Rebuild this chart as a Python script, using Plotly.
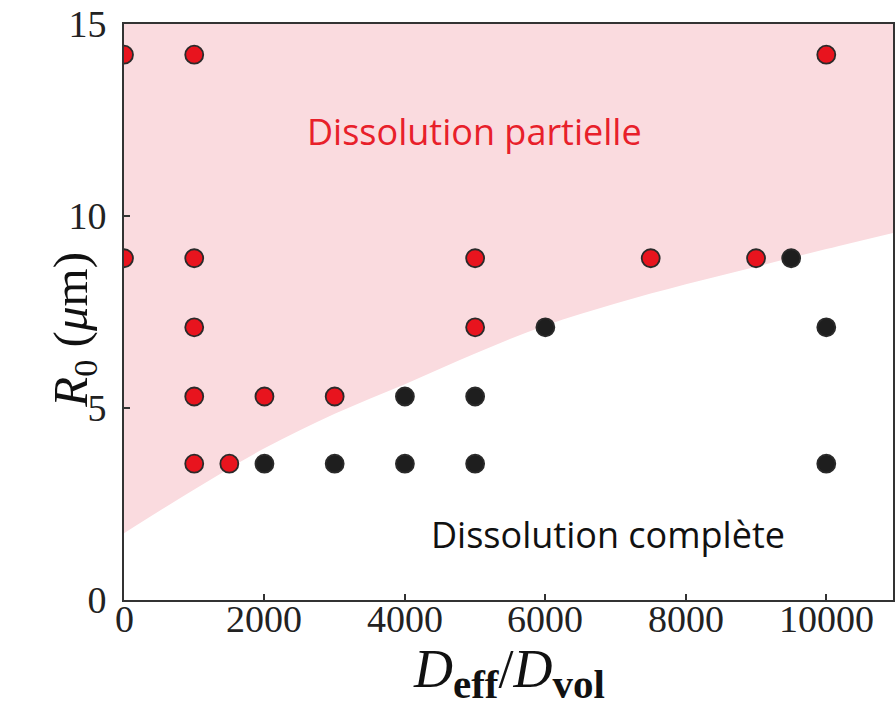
import plotly.graph_objects as go

# Simulation outcomes: ratio D_eff/D_vol vs initial radius R0 (µm)
partial_d = [0, 1000, 10000, 0, 1000, 5000, 7500, 9000, 1000, 5000, 1000, 2000, 3000, 1000, 1500]
partial_r = [14.2, 14.2, 14.2, 8.9, 8.9, 8.9, 8.9, 8.9, 7.1, 7.1, 5.3, 5.3, 5.3, 3.55, 3.55]

complete_d = [9500, 6000, 10000, 4000, 5000, 2000, 3000, 4000, 5000, 10000]
complete_r = [8.9, 7.1, 7.1, 5.3, 5.3, 3.55, 3.55, 3.55, 3.55, 3.55]

# Boundary between partial and complete dissolution
boundary_d = [0, 1000, 2000, 3000, 4000, 5000, 6000, 7000, 8000, 9000, 10000, 10950]
boundary_r = [1.74, 2.88, 3.95, 4.85, 5.62, 6.42, 7.15, 7.72, 8.22, 8.68, 9.14, 9.56]

x_ticks = [0, 2000, 4000, 6000, 8000, 10000]
y_ticks = [0, 5, 10, 15]
x_max = 10950
y_max = 15

serif = "Liberation Serif"
sans = "Open Sans"

fig = go.Figure()

# Shaded region above the boundary
fig.add_trace(go.Scatter(
    x=[boundary_d[0], boundary_d[-1]], y=[y_max, y_max],
    mode="lines", line=dict(width=0), showlegend=False, hoverinfo="skip",
))
fig.add_trace(go.Scatter(
    x=boundary_d, y=boundary_r, mode="lines",
    line=dict(width=0, shape="spline", smoothing=1.0),
    fill="tonexty", fillcolor="#FADBDF",
    showlegend=False, hoverinfo="skip",
))

fig.add_trace(go.Scatter(
    x=partial_d, y=partial_r, mode="markers",
    marker=dict(size=18, color="#E8141E", line=dict(color="#2a2a2a", width=1.8)),
    showlegend=False,
))
fig.add_trace(go.Scatter(
    x=complete_d, y=complete_r, mode="markers",
    marker=dict(size=18, color="#1e1e1e", line=dict(color="#2a2a2a", width=1.8)),
    showlegend=False,
))

fig.add_annotation(
    x=4990, y=12.2, xref="x", yref="y",
    text="Dissolution partielle", showarrow=False,
    font=dict(family=sans, size=36, color="#E8202A"),
)
fig.add_annotation(
    x=6890, y=1.7, xref="x", yref="y",
    text="Dissolution complète", showarrow=False,
    font=dict(family=sans, size=36, color="#111111"),
)

# x tick labels, set close under the axis line
for v in x_ticks:
    fig.add_annotation(
        x=v, y=0, xref="x", yref="paper", yanchor="middle", yshift=-19,
        text=str(v), showarrow=False,
        font=dict(family=serif, size=38, color="#222222"),
    )

# Axis titles
fig.add_annotation(
    x=-0.108, y=0.47, xref="paper", yref="paper",
    text="<i>R</i><sub>0</sub> (<i>μ</i>m)", textangle=-90, showarrow=False,
    font=dict(family=serif, size=49, color="#111111"),
)
fig.add_annotation(
    x=0.5, y=-0.127, xref="paper", yref="paper", yanchor="middle",
    text=("<i>D</i><sub><span style='font-size:41px'><b>eff</b></span></sub>/"
          "<i>D</i><sub><span style='font-size:41px'><b>vol</b></span></sub>"),
    showarrow=False,
    font=dict(family=serif, size=54, color="#111111"),
)

axis_common = dict(
    showgrid=False, zeroline=False, showline=True, mirror=True,
    linecolor="#333333", linewidth=1.6,
    ticks="inside", ticklen=6, tickwidth=1.5, tickcolor="#333333",
    tickfont=dict(family=serif, size=38, color="#222222"),
)

fig.update_xaxes(range=[0, x_max], tickvals=x_ticks, showticklabels=False, **axis_common)
fig.update_yaxes(range=[0, y_max], tickvals=y_ticks,
                 ticktext=[str(v) for v in y_ticks], ticklabelstandoff=8, **axis_common)

fig.update_layout(
    width=895, height=707,
    margin=dict(l=124, r=0, t=24, b=107),
    paper_bgcolor="white", plot_bgcolor="white",
)

fig.write_html("out.html")
